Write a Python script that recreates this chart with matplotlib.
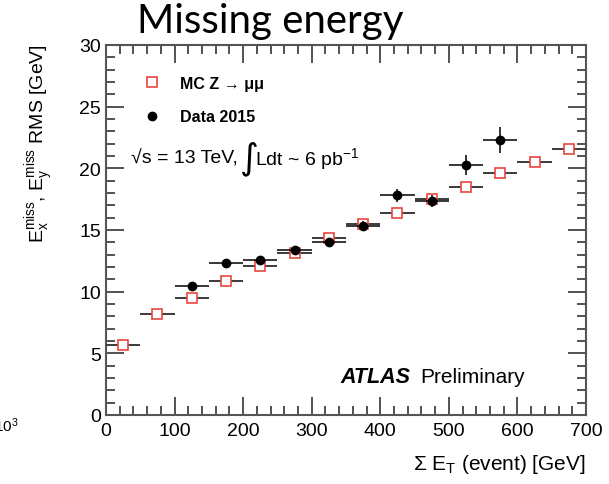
import matplotlib
matplotlib.use("Agg")
import matplotlib.pyplot as plt
from matplotlib.lines import Line2D
from matplotlib.ticker import MultipleLocator

plt.rcParams["font.family"] = ["Liberation Sans", "DejaVu Sans"]
plt.rcParams["mathtext.fontset"] = "custom"
plt.rcParams["mathtext.rm"] = "Liberation Sans"
plt.rcParams["mathtext.it"] = "Liberation Sans:italic"

# bin centres of sum E_T [GeV], half bin width 25
mc_x = [25, 75, 125, 175, 225, 275, 325, 375, 425, 475, 525, 575, 625, 675]
mc_rms = [5.7, 8.2, 9.5, 10.9, 12.1, 13.1, 14.35, 15.45, 16.4, 17.5, 18.5, 19.6, 20.5, 21.6]

data_x = [125, 175, 225, 275, 325, 375, 425, 475, 525, 575]
data_rms = [10.45, 12.3, 12.55, 13.35, 14.05, 15.3, 17.8, 17.35, 20.3, 22.3]
data_err = [0.15, 0.15, 0.2, 0.2, 0.25, 0.4, 0.5, 0.5, 0.8, 1.05]

half_bin = 25
mc_red = "#e8473f"

fig = plt.figure(figsize=(6.09, 4.85), dpi=100)
ax = fig.add_axes([106 / 609, 1 - 416 / 485, 480 / 609, 370 / 485])

ax.errorbar(mc_x, mc_rms, xerr=half_bin, fmt="s", ms=7.5, mfc="white", mec=mc_red,
            mew=1.2, ecolor="#3a3a3a", elinewidth=1.4, capsize=0, zorder=3)
ax.errorbar(data_x, data_rms, xerr=half_bin, yerr=data_err, fmt="o", ms=6, color="black",
            ecolor="black", elinewidth=1.1, capsize=0, zorder=4)

ax.set_xlim(0, 700)
ax.set_ylim(0, 30)
ax.xaxis.set_major_locator(MultipleLocator(100))
ax.xaxis.set_minor_locator(MultipleLocator(20))
ax.yaxis.set_major_locator(MultipleLocator(5))
ax.yaxis.set_minor_locator(MultipleLocator(1))
ax.tick_params(which="both", direction="in", top=True, right=True, color="#444444", width=1.3)
ax.tick_params(which="major", length=13, labelsize=14)
ax.tick_params(axis="x", which="major", pad=5)
ax.tick_params(which="minor", length=6.5)
for s in ax.spines.values():
    s.set_color("#555555")
    s.set_linewidth(1.5)

# legend: markers only, ROOT style
handles = [
    Line2D([], [], ls="none", marker="s", ms=7.5, mfc="white", mec=mc_red, mew=1.2),
    Line2D([], [], ls="none", marker="o", ms=6, color="black"),
]
labels = ["MC Z → μμ", "Data 2015"]
ax.legend(handles, labels, loc="upper left", bbox_to_anchor=(0.05, 0.955), frameon=False,
          handlelength=1.0, handletextpad=1.25, labelspacing=1.15,
          prop={"weight": "bold", "size": 11.5})

# energy and luminosity line
ax.text(25 / 480, 0.695, "√s = 13 TeV,", transform=ax.transAxes, fontsize=14, va="center")
ax.text(134 / 480, 0.695, "∫", transform=ax.transAxes, fontsize=26, va="center",
        family=["DejaVu Sans"])
ax.text(149 / 480, 0.695, "Ldt ~ 6 pb$^{-1}$", transform=ax.transAxes, fontsize=14,
        va="center")

ax.text(234 / 480, 0.105, "ATLAS", transform=ax.transAxes, fontsize=15.5, fontweight="bold",
        fontstyle="italic", va="center")
ax.text(314 / 480, 0.105, "Preliminary", transform=ax.transAxes, fontsize=15, va="center")

fig.text(586 / 609, 1 - 465 / 485, r"$\Sigma$ E$_{\rm T}$ (event) [GeV]", ha="right",
         va="center", fontsize=15)
fig.text(40 / 609, 1 - 44 / 485, r"E$_{\rm x}^{\rm miss}$, E$_{\rm y}^{\rm miss}$ RMS [GeV]",
         rotation=90, ha="center", va="top", fontsize=14)
fig.text(-6 / 609, 1 - 426 / 485, r"10$^3$", fontsize=11, va="center")

fig.text(270 / 609, 1 - 22 / 485, "Missing energy", ha="center", va="center",
         fontsize=29, family=["Lato", "DejaVu Sans"])

fig.savefig("out.png", dpi=100)
